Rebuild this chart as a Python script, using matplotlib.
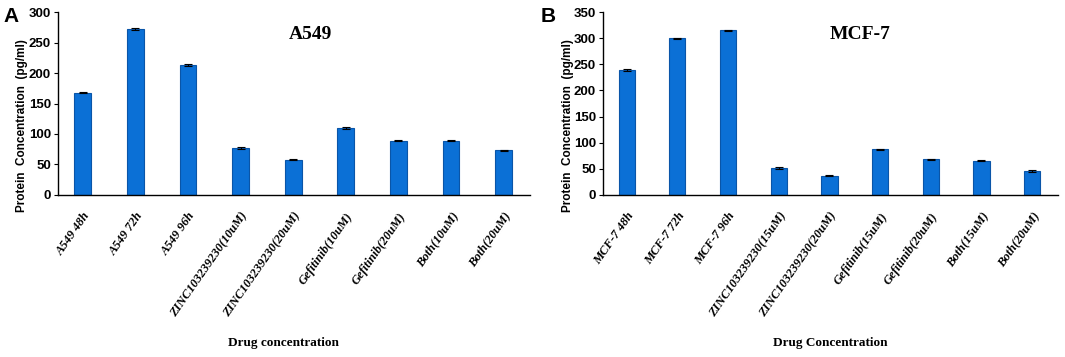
import matplotlib
matplotlib.use("Agg")
import matplotlib.pyplot as plt
import numpy as np

# Data
cats_a = ["A549 48h", "A549 72h", "A549 96h", "ZINC103239230(10uM)", "ZINC103239230(20uM)",
          "Gefitinib(10uM)", "Gefitinib(20uM)", "Both(10uM)", "Both(20uM)"]
vals_a = [168, 273, 213, 77, 58, 110, 89, 89, 73]
err_a = [1.5, 1.5, 1.5, 1, 1, 1.5, 1, 1, 1.5]

cats_b = ["MCF-7 48h", "MCF-7 72h", "MCF-7 96h", "ZINC103239230(15uM)", "ZINC103239230(20uM)",
          "Gefitinib(15uM)", "Gefitinib(20uM)", "Both(15uM)", "Both(20uM)"]
vals_b = [239, 300, 315, 52, 37, 87, 68, 65, 46]
err_b = [2, 1, 1, 1.5, 1, 1, 1, 1, 1.5]

yticks_a = [0, 50, 100, 150, 200, 250, 300]
yticks_b = [0, 50, 100, 150, 200, 250, 300, 350]

fig = plt.figure(figsize=(10.65, 3.57), dpi=100)
bar_color = "#0b70d6"
edge_color = "#0a55a8"

def panel(rect, cats, vals, errs, yticks, title, title_xy, xlabel, letter, letter_x, xlab_x):
    ax = fig.add_axes(rect)
    x = np.arange(len(cats))
    ax.bar(x, vals, width=0.32, color=bar_color, edgecolor=edge_color, linewidth=0.8,
           yerr=errs, error_kw=dict(ecolor="black", elinewidth=0.8, capsize=3, capthick=0.8))
    ax.set_xlim(-0.47, len(cats) - 0.5)
    ax.set_ylim(0, yticks[-1])
    ax.set_yticks(yticks)
    ax.set_yticklabels([str(t) for t in yticks], fontfamily="Liberation Sans",
                       fontweight="bold", fontsize=9.5)
    ax.set_xticks(x)
    ax.set_xticklabels(cats, rotation=55, ha="right", rotation_mode="anchor",
                       fontfamily="Liberation Serif", fontstyle="italic",
                       fontweight="bold", fontsize=9)
    ax.tick_params(axis="x", length=0, pad=11)
    ax.tick_params(axis="y", length=3, width=0.8, pad=2)
    for s in ["top", "right"]:
        ax.spines[s].set_visible(False)
    for s in ["left", "bottom"]:
        ax.spines[s].set_linewidth(1.0)
        ax.spines[s].set_color("black")
    ax.set_ylabel("Protein  Concentration  (pg/ml)", fontfamily="Liberation Sans",
                  fontweight="bold", fontsize=8.5)
    ax.yaxis.set_label_coords(-0.064, 0.38)
    ax.text(title_xy[0], title_xy[1], title, transform=ax.transAxes,
            fontfamily="Liberation Serif", fontweight="bold", fontsize=14,
            ha="center", va="center")
    fig.text(xlab_x, 0.04, xlabel, fontfamily="Liberation Serif", fontweight="bold",
             fontsize=9.5, ha="center", va="center")
    fig.text(letter_x, 0.955, letter, fontfamily="Liberation Sans", fontweight="bold",
             fontsize=15, ha="left", va="center")
    return ax

panel([0.0545, 0.454, 0.443, 0.512], cats_a, vals_a, err_a, yticks_a, "A549",
      (0.536, 0.88), "Drug concentration", "A", 0.003, 0.266)
panel([0.566, 0.454, 0.427, 0.512], cats_b, vals_b, err_b, yticks_b, "MCF-7",
      (0.565, 0.875), "Drug Concentration", "B", 0.508, 0.78)

fig.savefig("out.png", dpi=100)
